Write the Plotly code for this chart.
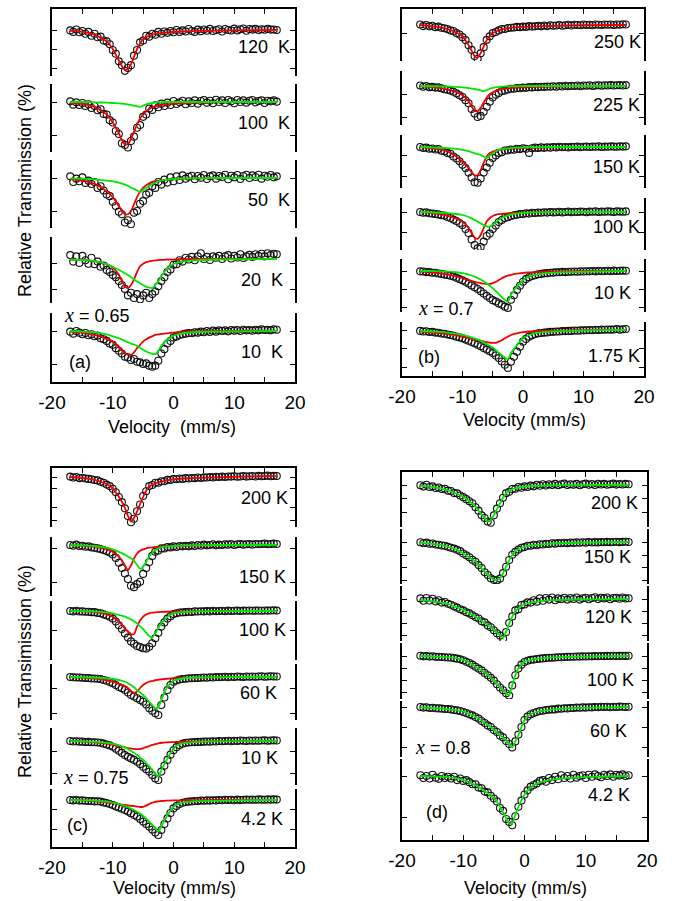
import plotly.graph_objects as go

W, H = 675, 901
FONT = "Liberation Sans, Arial, sans-serif"

# velocity channels of the spectra (mm/s) and velocity points of the fitted sub-spectra
VEL = [-17 + 0.5 * k for k in range(69)]
CV = [-17, -15, -13, -11, -10, -9, -8.5, -8, -7.5, -7, -6.5, -6, -5.5, -5, -4.5, -4,
      -3.5, -3, -2.5, -2, -1.5, -1, 0, 1, 2, 4, 7, 11, 17]

# ---------------- panel (a) x = 0.65 ----------------
A120_DATA = [-0.02, -0.1, 0.03, -0.12, -0.05, -0.2, -0.1, -0.3, -0.2, -0.38,
             -0.35, -0.55, -0.6, -0.75, -1.05, -1.25, -1.65, -1.85, -2.15, -2.0,
             -1.85, -1.35, -1.05, -0.65, -0.55, -0.3, -0.35, -0.2, -0.25, -0.1,
             -0.2, -0.08, -0.15, -0.05, -0.12, 0.0, -0.1, -0.02, -0.08, 0.05,
             -0.05, -0.1, 0.02, -0.06, 0.03, -0.04, 0.06, -0.05, 0.0, 0.04,
             -0.08, 0.05, 0.0, -0.03, 0.07, -0.02, 0.04, 0.08, -0.04, 0.05,
             0.02, 0.06, 0.0, 0.04, 0.01, 0.06, 0.02, 0.03, 0.0]
A120_RED = [-0.05, -0.1, -0.25, -0.6, -1.0, -1.6, -1.9, -2.1, -2.05, -1.8,
            -1.4, -1.0, -0.7, -0.5, -0.38, -0.3, -0.25, -0.21, -0.18, -0.16,
            -0.14, -0.12, -0.1, -0.08, -0.07, -0.05, -0.03, -0.02, 0]

A100_DATA = [0.02, -0.08, -0.01, -0.09, -0.03, -0.12, -0.07, -0.18, -0.12, -0.25,
             -0.22, -0.36, -0.38, -0.55, -0.62, -0.88, -0.97, -1.25, -1.3, -1.38,
             -1.18, -1.05, -0.78, -0.7, -0.45, -0.38, -0.2, -0.24, -0.1, -0.16,
             -0.05, -0.12, -0.02, -0.09, 0.03, -0.06, -0.01, 0.04, -0.07, 0.02,
             -0.03, 0.05, -0.05, 0.03, 0.06, -0.02, 0.04, -0.04, 0.07, 0.0,
             0.05, -0.03, 0.06, 0.02, -0.04, 0.06, 0.0, 0.05, -0.02, 0.04,
             0.06, -0.01, 0.03, 0.05, -0.03, 0.04, 0.02, 0.05, 0.01]
A100_RED = [-0.03, -0.06, -0.15, -0.38, -0.62, -0.95, -1.15, -1.28, -1.27, -1.12,
            -0.9, -0.68, -0.5, -0.38, -0.28, -0.21, -0.16, -0.13, -0.11, -0.09,
            -0.08, -0.07, -0.05, -0.04, -0.03, -0.02, -0.01, 0, 0]
A100_GREEN = [0, 0, -0.01, -0.02, -0.03, -0.04, -0.05, -0.06, -0.07, -0.09,
              -0.11, -0.13, -0.15, -0.11, -0.07, -0.04, -0.03, -0.02, -0.01, -0.01,
              0, 0, 0, 0, 0, 0, 0, 0, 0]

A50_DATA = [0.05, -0.12, -0.02, -0.1, 0.02, -0.15, -0.08, -0.18, -0.12, -0.3,
            -0.25, -0.38, -0.5, -0.55, -0.72, -0.85, -1.02, -1.1, -1.35, -1.28,
            -1.4, -1.05, -1.0, -0.78, -0.7, -0.5, -0.45, -0.25, -0.3, -0.12,
            -0.2, -0.05, -0.14, 0.02, -0.1, 0.05, -0.06, 0.08, -0.02, 0.04,
            0.07, -0.04, 0.06, 0.01, 0.09, -0.03, 0.05, 0.08, -0.02, 0.06,
            0.03, 0.1, -0.04, 0.07, 0.02, 0.09, -0.03, 0.06, 0.1, 0.0,
            0.08, 0.03, 0.1, -0.02, 0.07, 0.04, 0.09, 0.02, 0.05]
A50_RED = [-0.03, -0.08, -0.18, -0.4, -0.58, -0.85, -1.0, -1.1, -1.1, -1.0,
           -0.8, -0.58, -0.42, -0.3, -0.22, -0.16, -0.12, -0.1, -0.08, -0.07,
           -0.06, -0.05, -0.04, -0.03, -0.02, -0.01, -0.01, 0, 0]
A50_GREEN = [-0.01, -0.02, -0.04, -0.08, -0.1, -0.14, -0.17, -0.2, -0.24, -0.29,
             -0.33, -0.38, -0.42, -0.36, -0.3, -0.24, -0.18, -0.14, -0.1, -0.08,
             -0.06, -0.05, -0.03, -0.02, -0.01, -0.01, 0, 0, 0]

A20_DATA = [0.15, -0.1, 0.1, -0.15, 0.12, -0.05, -0.18, 0.05, -0.2, -0.1,
            -0.3, -0.25, -0.42, -0.5, -0.62, -0.7, -0.85, -1.0, -1.15, -1.4,
            -1.3, -1.5, -1.35, -1.55, -1.4, -1.3, -1.5, -1.35, -1.25, -1.05,
            -0.85, -0.7, -0.5, -0.4, -0.22, -0.2, -0.05, -0.1, 0.05, -0.02,
            0.08, -0.05, 0.1, 0.22, 0.0, 0.08, -0.04, 0.1, 0.05, 0.12,
            0.0, 0.1, 0.15, 0.02, 0.12, 0.06, 0.18, 0.04, 0.1, 0.16,
            0.08, 0.18, 0.12, 0.2, 0.1, 0.22, 0.15, 0.2, 0.18]
A20_RED = [-0.02, -0.04, -0.08, -0.2, -0.33, -0.6, -0.85, -1.05, -1.12, -1.0,
           -0.78, -0.5, -0.28, -0.18, -0.12, -0.09, -0.07, -0.05, -0.04, -0.03,
           -0.03, -0.02, -0.02, -0.01, -0.01, 0, 0, 0, 0]
A20_GREEN = [-0.02, -0.04, -0.08, -0.2, -0.3, -0.42, -0.48, -0.55, -0.62, -0.7,
             -0.78, -0.87, -0.94, -1.0, -1.06, -1.1, -1.12, -1.0, -0.85, -0.68,
             -0.5, -0.35, -0.19, -0.12, -0.08, -0.04, -0.02, -0.01, 0]

A10_DATA = [-0.02, -0.08, 0.0, -0.05, -0.1, -0.06, -0.13, -0.1, -0.16, -0.14,
            -0.22, -0.25, -0.3, -0.38, -0.42, -0.52, -0.6, -0.68, -0.78, -0.8,
            -0.88, -0.85, -0.93, -0.95, -1.0, -0.98, -1.05, -1.08, -1.05, -0.9,
            -0.68, -0.55, -0.38, -0.3, -0.2, -0.17, -0.12, -0.1, -0.08, -0.06,
            -0.07, -0.04, -0.05, -0.02, -0.04, 0.0, -0.03, 0.01, -0.02, 0.02,
            0.0, 0.02, -0.01, 0.03, 0.01, 0.03, 0.0, 0.04, 0.02, 0.03,
            0.01, 0.04, 0.02, 0.05, 0.03, 0.04, 0.02, 0.05, 0.04]
A10_RED = [-0.02, -0.06, -0.12, -0.24, -0.32, -0.48, -0.58, -0.67, -0.72, -0.73,
           -0.65, -0.52, -0.42, -0.32, -0.25, -0.2, -0.16, -0.12, -0.1, -0.09,
           -0.08, -0.07, -0.05, -0.03, -0.02, -0.01, 0, 0, 0]
A10_GREEN = [0, -0.02, -0.04, -0.1, -0.16, -0.22, -0.26, -0.3, -0.34, -0.38,
             -0.41, -0.45, -0.51, -0.57, -0.62, -0.66, -0.69, -0.7, -0.6, -0.45,
             -0.34, -0.26, -0.14, -0.09, -0.06, -0.03, -0.02, -0.01, 0]

# ---------------- panel (b) x = 0.7 ----------------
B250_DATA = [0.02, -0.04, 0.0, -0.05, -0.03, -0.08, -0.06, -0.1, -0.12, -0.15,
             -0.2, -0.22, -0.3, -0.35, -0.45, -0.56, -0.75, -0.92, -1.15, -1.25,
             -1.05, -0.82, -0.55, -0.42, -0.3, -0.26, -0.2, -0.15, -0.15, -0.11,
             -0.1, -0.09, -0.07, -0.08, -0.06, -0.07, -0.04, -0.06, -0.05, -0.03,
             -0.05, -0.02, -0.04, -0.01, -0.03, -0.02, 0.0, -0.03, -0.01, 0.01,
             -0.02, 0.01, 0.0, -0.01, 0.02, 0.0, 0.01, -0.01, 0.02, 0.01,
             0.0, 0.02, 0.01, 0.02, 0.0, 0.02, 0.01, 0.03, 0.02]
B250_RED = [0, -0.05, -0.12, -0.28, -0.43, -0.74, -0.95, -1.15, -1.2, -1.04,
            -0.8, -0.56, -0.4, -0.3, -0.24, -0.19, -0.16, -0.14, -0.12, -0.1,
            -0.09, -0.08, -0.07, -0.06, -0.05, -0.04, -0.02, -0.01, 0]

B225_DATA = [0.02, -0.03, 0.0, -0.05, -0.04, -0.07, -0.06, -0.1, -0.14, -0.16,
             -0.2, -0.25, -0.32, -0.4, -0.48, -0.62, -0.75, -1.0, -1.2, -1.35,
             -1.3, -1.12, -0.9, -0.68, -0.5, -0.38, -0.3, -0.22, -0.2, -0.15,
             -0.12, -0.12, -0.09, -0.1, -0.07, -0.08, -0.05, -0.06, -0.04, -0.05,
             -0.03, -0.04, -0.02, -0.03, -0.01, -0.03, 0.0, -0.02, 0.01, -0.01,
             0.01, 0.0, 0.02, -0.01, 0.02, 0.01, 0.03, 0.0, 0.02, 0.03,
             0.01, 0.03, 0.02, 0.04, 0.02, 0.03, 0.04, 0.02, 0.04]
B225_RED = [-0.02, -0.05, -0.12, -0.27, -0.4, -0.66, -0.88, -1.08, -1.1, -0.95,
            -0.72, -0.5, -0.36, -0.27, -0.21, -0.17, -0.14, -0.12, -0.1, -0.09,
            -0.08, -0.07, -0.06, -0.05, -0.04, -0.03, -0.02, -0.01, 0]
B225_GREEN = [0, -0.01, -0.02, -0.04, -0.06, -0.09, -0.11, -0.13, -0.16, -0.19,
              -0.22, -0.18, -0.12, -0.08, -0.06, -0.04, -0.03, -0.02, -0.02, -0.01,
              -0.01, -0.01, 0, 0, 0, 0, 0, 0, 0]

B150_DATA = [0.0, -0.05, -0.03, -0.08, -0.07, -0.12, -0.1, -0.18, -0.2, -0.28,
             -0.32, -0.45, -0.55, -0.68, -0.85, -1.0, -1.22, -1.45, -1.68, -1.7,
             -1.5, -1.22, -0.98, -0.75, -0.52, -0.4, -0.28, -0.25, -0.17, -0.16,
             -0.12, -0.13, -0.08, -0.1, -0.06, -0.08, -0.28, -0.06, -0.03, -0.05,
             -0.02, -0.04, -0.01, -0.03, 0.0, -0.02, 0.01, -0.01, 0.0, -0.02,
             0.01, 0.0, 0.02, -0.01, 0.01, 0.02, 0.0, 0.02, 0.01, 0.03,
             0.0, 0.02, 0.01, 0.03, 0.02, 0.01, 0.03, 0.02, 0.03]
B150_RED = [-0.02, -0.06, -0.15, -0.45, -0.7, -1.0, -1.2, -1.36, -1.33, -1.1,
            -0.75, -0.46, -0.3, -0.22, -0.17, -0.14, -0.12, -0.1, -0.09, -0.08,
            -0.07, -0.06, -0.05, -0.04, -0.03, -0.02, -0.01, 0, 0]
B150_GREEN = [0, -0.02, -0.04, -0.09, -0.14, -0.2, -0.25, -0.3, -0.34, -0.38,
              -0.45, -0.52, -0.42, -0.3, -0.2, -0.14, -0.1, -0.08, -0.06, -0.05,
              -0.04, -0.03, -0.02, -0.01, -0.01, 0, 0, 0, 0]

B100_DATA = [0.0, -0.04, -0.02, -0.06, -0.08, -0.1, -0.12, -0.16, -0.18, -0.25,
             -0.3, -0.38, -0.45, -0.55, -0.65, -0.85, -1.05, -1.38, -1.65, -1.82,
             -1.75, -1.48, -1.2, -1.08, -0.85, -0.68, -0.5, -0.4, -0.3, -0.26,
             -0.2, -0.16, -0.14, -0.1, -0.1, -0.06, -0.08, -0.04, -0.05, -0.03,
             -0.04, -0.01, -0.03, 0.0, -0.02, -0.01, 0.01, -0.02, 0.0, 0.02,
             -0.01, 0.01, 0.0, 0.02, 0.01, -0.01, 0.02, 0.01, 0.03, 0.0,
             0.02, 0.01, 0.03, 0.02, 0.0, 0.03, 0.02, 0.01, 0.03]
B100_RED = [-0.01, -0.05, -0.14, -0.33, -0.48, -0.8, -1.05, -1.28, -1.34, -1.15,
            -0.8, -0.48, -0.3, -0.2, -0.14, -0.11, -0.09, -0.08, -0.07, -0.06,
            -0.05, -0.05, -0.04, -0.03, -0.02, -0.01, 0, 0, 0]
B100_GREEN = [0, -0.02, -0.04, -0.1, -0.15, -0.25, -0.32, -0.4, -0.48, -0.57,
              -0.65, -0.72, -0.74, -0.63, -0.52, -0.4, -0.3, -0.23, -0.17, -0.13,
              -0.1, -0.08, -0.05, -0.03, -0.02, -0.01, 0, 0, 0]

B10_DATA = [-0.02, -0.03, -0.06, -0.06, -0.1, -0.1, -0.14, -0.16, -0.2, -0.22,
            -0.26, -0.3, -0.38, -0.45, -0.52, -0.6, -0.7, -0.8, -0.9, -1.0,
            -1.12, -1.25, -1.38, -1.5, -1.62, -1.7, -1.8, -1.88, -1.98, -2.05,
            -1.6, -1.35, -1.05, -0.82, -0.6, -0.45, -0.35, -0.28, -0.24, -0.18,
            -0.16, -0.13, -0.12, -0.1, -0.09, -0.07, -0.07, -0.05, -0.06, -0.04,
            -0.04, -0.03, -0.04, -0.02, -0.03, -0.01, -0.02, 0.0, -0.02, 0.01,
            -0.01, 0.0, 0.01, -0.01, 0.02, 0.0, 0.01, 0.02, 0.01]
B10_RED = [-0.03, -0.08, -0.16, -0.3, -0.4, -0.5, -0.55, -0.6, -0.64, -0.68,
           -0.7, -0.72, -0.72, -0.67, -0.6, -0.5, -0.4, -0.31, -0.26, -0.22,
           -0.18, -0.15, -0.1, -0.08, -0.06, -0.04, -0.02, -0.01, 0]
B10_GREEN = [0, -0.01, -0.02, -0.07, -0.12, -0.2, -0.25, -0.31, -0.38, -0.47,
             -0.57, -0.68, -0.82, -0.96, -1.12, -1.28, -1.45, -1.61, -1.7, -1.33,
             -1.08, -0.87, -0.5, -0.31, -0.22, -0.12, -0.06, -0.03, 0]

B175_DATA = [-0.05, -0.08, -0.07, -0.11, -0.1, -0.14, -0.15, -0.19, -0.2, -0.24,
             -0.27, -0.31, -0.36, -0.4, -0.45, -0.52, -0.58, -0.65, -0.72, -0.8,
             -0.88, -0.97, -1.06, -1.15, -1.25, -1.38, -1.52, -1.7, -1.88, -2.05,
             -1.72, -1.45, -1.17, -0.9, -0.63, -0.48, -0.36, -0.28, -0.22, -0.18,
             -0.16, -0.14, -0.13, -0.1, -0.1, -0.08, -0.08, -0.06, -0.06, -0.05,
             -0.05, -0.03, -0.04, -0.02, -0.02, -0.01, 0.0, -0.01, 0.01, 0.0,
             0.02, 0.01, 0.03, 0.02, 0.03, 0.05, 0.02, 0.04, 0.05]
B175_RED = [-0.09, -0.14, -0.19, -0.28, -0.36, -0.43, -0.47, -0.5, -0.54, -0.58,
            -0.62, -0.66, -0.69, -0.7, -0.69, -0.63, -0.55, -0.45, -0.36, -0.27,
            -0.22, -0.18, -0.12, -0.08, -0.06, -0.04, -0.02, -0.01, 0]
B175_GREEN = [-0.05, -0.08, -0.11, -0.2, -0.27, -0.35, -0.4, -0.45, -0.51, -0.58,
              -0.67, -0.76, -0.85, -0.95, -1.08, -1.23, -1.36, -1.48, -1.57, -1.26,
              -1.02, -0.81, -0.45, -0.27, -0.18, -0.1, -0.05, -0.02, 0]

# ---------------- panel (c) x = 0.75 ----------------
C200_DATA = [0.02, -0.03, 0.0, -0.06, -0.04, -0.08, -0.1, -0.12, -0.16, -0.18,
             -0.25, -0.3, -0.4, -0.48, -0.62, -0.8, -1.05, -1.32, -1.65, -2.05,
             -2.38, -2.2, -1.8, -1.45, -1.0, -0.75, -0.48, -0.42, -0.3, -0.3,
             -0.22, -0.22, -0.15, -0.16, -0.1, -0.12, -0.08, -0.1, -0.06, -0.08,
             -0.05, -0.06, -0.03, -0.05, -0.02, -0.03, 0.0, -0.02, 0.01, 0.0,
             0.02, 0.0, 0.03, 0.02, 0.04, 0.01, 0.03, 0.05, 0.02, 0.04,
             0.05, 0.03, 0.06, 0.04, 0.05, 0.07, 0.04, 0.06, 0.05]
C200_RED = [0, -0.05, -0.15, -0.38, -0.6, -1.04, -1.3, -1.63, -2.05, -2.35,
            -2.16, -1.82, -1.42, -1.04, -0.72, -0.51, -0.4, -0.33, -0.28, -0.25,
            -0.2, -0.17, -0.12, -0.1, -0.08, -0.05, -0.02, 0.02, 0.05]

C150_DATA = [0.0, -0.02, 0.01, -0.03, -0.02, -0.05, -0.04, -0.07, -0.08, -0.1,
             -0.12, -0.15, -0.18, -0.22, -0.28, -0.38, -0.52, -0.68, -0.84, -1.0,
             -1.2, -1.24, -1.15, -1.08, -0.85, -0.68, -0.5, -0.32, -0.2, -0.16,
             -0.1, -0.1, -0.06, -0.07, -0.04, -0.06, -0.03, -0.04, -0.02, -0.04,
             -0.01, -0.03, 0.0, -0.02, 0.01, -0.01, 0.0, 0.02, -0.01, 0.01,
             0.0, 0.02, 0.01, 0.03, 0.0, 0.02, 0.03, 0.01, 0.02, 0.03,
             0.01, 0.03, 0.02, 0.03, 0.04, 0.02, 0.03, 0.04, 0.03]
C150_RED = [0, -0.02, -0.04, -0.12, -0.2, -0.34, -0.45, -0.6, -0.74, -0.6,
            -0.4, -0.25, -0.17, -0.13, -0.1, -0.08, -0.07, -0.06, -0.05, -0.04,
            -0.04, -0.03, -0.03, -0.02, -0.02, -0.01, -0.01, 0, 0]
C150_GREEN = [0, -0.01, -0.03, -0.08, -0.13, -0.2, -0.24, -0.29, -0.34, -0.39,
              -0.47, -0.59, -0.7, -0.64, -0.5, -0.34, -0.23, -0.15, -0.1, -0.07,
              -0.05, -0.04, -0.03, -0.02, -0.01, -0.01, 0, 0, 0]

C100_DATA = [0.0, -0.02, 0.01, -0.03, -0.02, -0.04, -0.04, -0.06, -0.06, -0.1,
             -0.12, -0.18, -0.24, -0.3, -0.4, -0.55, -0.75, -0.95, -1.18, -1.4,
             -1.6, -1.72, -1.84, -1.9, -1.96, -1.98, -1.88, -1.7, -1.44, -1.15,
             -0.82, -0.6, -0.4, -0.28, -0.16, -0.12, -0.08, -0.07, -0.06, -0.04,
             -0.05, -0.02, -0.03, -0.01, -0.02, 0.0, -0.02, 0.01, -0.01, 0.0,
             0.01, -0.01, 0.02, 0.0, 0.01, 0.02, 0.0, 0.02, 0.01, 0.03,
             0.01, 0.02, 0.03, 0.01, 0.03, 0.02, 0.03, 0.04, 0.02]
C100_RED = [0, -0.02, -0.05, -0.17, -0.3, -0.56, -0.72, -0.91, -1.08, -1.21,
            -1.22, -0.82, -0.5, -0.3, -0.18, -0.12, -0.09, -0.07, -0.06, -0.05,
            -0.04, -0.04, -0.03, -0.02, -0.02, -0.01, 0, 0, 0]
C100_GREEN = [0, -0.01, -0.02, -0.07, -0.12, -0.2, -0.25, -0.3, -0.37, -0.44,
              -0.54, -0.65, -0.8, -0.96, -1.14, -1.32, -1.4, -1.18, -0.9, -0.65,
              -0.45, -0.3, -0.12, -0.07, -0.05, -0.02, -0.01, 0, 0]

C60_DATA = [0.0, -0.01, -0.02, -0.02, -0.03, -0.04, -0.04, -0.06, -0.06, -0.07,
            -0.08, -0.12, -0.15, -0.2, -0.25, -0.32, -0.4, -0.45, -0.52, -0.62,
            -0.72, -0.78, -0.85, -0.92, -0.99, -1.1, -1.25, -1.35, -1.45, -1.52,
            -1.12, -0.82, -0.52, -0.32, -0.19, -0.14, -0.1, -0.08, -0.07, -0.05,
            -0.05, -0.04, -0.04, -0.03, -0.02, -0.03, -0.01, -0.02, 0.0, -0.01,
            0.0, 0.01, -0.01, 0.01, 0.0, 0.02, 0.01, 0.0, 0.02, 0.01,
            0.02, 0.01, 0.02, 0.03, 0.01, 0.02, 0.03, 0.02, 0.02]
C60_RED = [0, -0.02, -0.05, -0.13, -0.19, -0.27, -0.31, -0.36, -0.45, -0.58,
           -0.64, -0.58, -0.44, -0.32, -0.24, -0.19, -0.16, -0.13, -0.11, -0.09,
           -0.08, -0.07, -0.05, -0.04, -0.03, -0.02, -0.01, 0, 0]
C60_GREEN = [0, -0.01, -0.02, -0.05, -0.07, -0.12, -0.15, -0.19, -0.25, -0.32,
             -0.41, -0.52, -0.62, -0.72, -0.85, -0.99, -1.12, -1.25, -1.2, -0.92,
             -0.62, -0.39, -0.15, -0.08, -0.04, -0.02, -0.01, 0, 0]

C10_DATA = [0.0, -0.02, -0.01, -0.03, -0.03, -0.05, -0.04, -0.06, -0.06, -0.07,
            -0.08, -0.12, -0.16, -0.2, -0.26, -0.35, -0.44, -0.54, -0.64, -0.72,
            -0.79, -0.86, -0.94, -1.05, -1.17, -1.28, -1.39, -1.55, -1.7, -1.77,
            -1.39, -1.12, -0.86, -0.62, -0.42, -0.28, -0.18, -0.12, -0.08, -0.07,
            -0.06, -0.05, -0.04, -0.04, -0.03, -0.02, -0.03, -0.01, -0.02, 0.0,
            -0.01, 0.0, 0.01, -0.01, 0.01, 0.0, 0.02, 0.01, 0.0, 0.02,
            0.01, 0.02, 0.01, 0.02, 0.03, 0.01, 0.02, 0.03, 0.02]
C10_RED = [0, -0.02, -0.05, -0.12, -0.18, -0.23, -0.26, -0.29, -0.32, -0.34,
           -0.36, -0.37, -0.36, -0.33, -0.28, -0.23, -0.18, -0.14, -0.11, -0.08,
           -0.07, -0.06, -0.05, -0.04, -0.03, -0.02, -0.01, 0, 0]
C10_GREEN = [0, -0.02, -0.04, -0.08, -0.12, -0.19, -0.24, -0.29, -0.36, -0.45,
             -0.54, -0.64, -0.75, -0.86, -1.0, -1.14, -1.32, -1.5, -1.62, -1.32,
             -1.05, -0.79, -0.33, -0.14, -0.09, -0.04, -0.02, -0.01, 0]

C42_DATA = [0.0, -0.02, 0.0, -0.03, -0.02, -0.04, -0.05, -0.05, -0.07, -0.06,
            -0.08, -0.12, -0.15, -0.2, -0.25, -0.32, -0.38, -0.44, -0.5, -0.58,
            -0.66, -0.75, -0.83, -0.95, -1.08, -1.2, -1.33, -1.48, -1.63, -1.75,
            -1.5, -1.2, -0.92, -0.65, -0.42, -0.3, -0.2, -0.14, -0.1, -0.08,
            -0.07, -0.05, -0.05, -0.03, -0.04, -0.02, -0.03, -0.01, -0.02, 0.0,
            -0.01, 0.01, 0.0, 0.01, -0.01, 0.02, 0.0, 0.01, 0.02, 0.01,
            0.02, 0.01, 0.03, 0.02, 0.01, 0.03, 0.02, 0.03, 0.02]
C42_RED = [0, -0.02, -0.05, -0.12, -0.17, -0.21, -0.23, -0.25, -0.27, -0.29,
           -0.31, -0.33, -0.35, -0.34, -0.28, -0.2, -0.13, -0.09, -0.07, -0.05,
           -0.04, -0.03, -0.02, -0.02, -0.01, -0.01, 0, 0, 0]
C42_GREEN = [0, -0.02, -0.03, -0.08, -0.13, -0.2, -0.25, -0.3, -0.36, -0.43,
             -0.5, -0.58, -0.68, -0.8, -0.93, -1.08, -1.25, -1.42, -1.58, -1.33,
             -1.02, -0.75, -0.33, -0.17, -0.11, -0.06, -0.04, -0.02, 0]

# ---------------- panel (d) x = 0.8 ----------------
D200_DATA = [-0.02, -0.12, 0.02, -0.15, -0.1, -0.22, -0.18, -0.3, -0.28, -0.42,
             -0.45, -0.6, -0.62, -0.78, -0.9, -1.05, -1.2, -1.35, -1.65, -1.9,
             -2.25, -2.45, -2.7, -2.8, -2.25, -1.75, -1.35, -0.95, -0.6, -0.5,
             -0.3, -0.28, -0.15, -0.2, -0.1, -0.15, -0.05, -0.1, 0.02, -0.06,
             0.05, -0.04, 0.06, 0.0, 0.08, -0.02, 0.05, 0.1, 0.0, 0.06,
             0.02, 0.08, -0.02, 0.06, 0.1, 0.02, 0.07, 0.0, 0.09, 0.04,
             0.08, 0.02, 0.06, 0.1, 0.03, 0.07, 0.04, 0.08, 0.05]
D200_GREEN = [-0.07, -0.15, -0.32, -0.65, -0.87, -1.2, -1.4, -1.6, -1.9, -2.2,
              -2.48, -2.7, -2.6, -2.2, -1.8, -1.36, -0.95, -0.62, -0.45, -0.32,
              -0.24, -0.18, -0.12, -0.08, -0.06, -0.02, -0.01, 0, 0]

D150_DATA = [-0.02, -0.1, -0.05, -0.14, -0.12, -0.2, -0.22, -0.28, -0.3, -0.38,
             -0.45, -0.52, -0.62, -0.72, -0.9, -1.05, -1.2, -1.4, -1.55, -1.82,
             -2.05, -2.38, -2.6, -2.85, -2.98, -3.02, -2.88, -2.45, -1.95, -1.42,
             -1.0, -0.78, -0.6, -0.45, -0.4, -0.3, -0.3, -0.22, -0.25, -0.18,
             -0.2, -0.14, -0.16, -0.1, -0.13, -0.08, -0.1, -0.06, -0.09, -0.04,
             -0.07, -0.03, -0.06, -0.02, -0.05, 0.0, -0.04, -0.01, -0.03, 0.0,
             -0.02, 0.01, -0.02, 0.0, 0.02, -0.01, 0.01, 0.02, 0.0]
D150_GREEN = [-0.05, -0.15, -0.3, -0.62, -0.9, -1.2, -1.38, -1.55, -1.8, -2.07,
              -2.35, -2.6, -2.82, -2.97, -3.0, -2.86, -2.45, -1.94, -1.45, -1.02,
              -0.75, -0.57, -0.37, -0.28, -0.22, -0.14, -0.08, -0.04, 0]

D120_DATA = [0.05, -0.15, 0.08, -0.12, 0.02, -0.2, -0.1, -0.3, -0.25, -0.4,
             -0.48, -0.6, -0.72, -0.85, -0.95, -1.1, -1.2, -1.35, -1.5, -1.62,
             -1.85, -1.95, -2.2, -2.35, -2.6, -2.85, -3.05, -3.3, -2.75, -2.0,
             -1.45, -0.95, -0.85, -0.5, -0.45, -0.28, -0.3, -0.1, -0.22, 0.05,
             -0.15, 0.08, -0.05, 0.12, -0.1, 0.05, -0.02, 0.1, -0.05, 0.08,
             0.0, 0.12, -0.05, 0.06, 0.1, -0.02, 0.08, 0.15, 0.0, 0.1,
             0.05, 0.12, -0.02, 0.08, 0.1, 0.02, 0.12, 0.05, 0.06]
D120_GREEN = [-0.08, -0.2, -0.35, -0.7, -0.92, -1.2, -1.33, -1.47, -1.64, -1.82,
              -2.0, -2.17, -2.37, -2.58, -2.8, -3.0, -3.25, -2.72, -2.05, -1.47,
              -1.05, -0.78, -0.42, -0.3, -0.22, -0.12, -0.06, -0.03, 0]

D100_DATA = [0.02, -0.03, 0.0, -0.05, -0.02, -0.07, -0.06, -0.08, -0.1, -0.12,
             -0.12, -0.18, -0.22, -0.28, -0.35, -0.48, -0.58, -0.72, -0.9, -1.05,
             -1.2, -1.42, -1.6, -1.82, -2.05, -2.35, -2.62, -2.85, -3.1, -3.3,
             -2.45, -1.6, -1.05, -0.72, -0.5, -0.4, -0.32, -0.3, -0.25, -0.22,
             -0.2, -0.17, -0.15, -0.14, -0.12, -0.1, -0.1, -0.08, -0.07, -0.06,
             -0.06, -0.04, -0.05, -0.03, -0.04, -0.02, -0.03, -0.01, -0.02, 0.0,
             -0.01, 0.01, 0.0, 0.02, 0.0, 0.01, 0.02, 0.01, 0.02]
D100_GREEN = [0, -0.04, -0.08, -0.2, -0.33, -0.55, -0.72, -0.89, -1.05, -1.22,
              -1.4, -1.58, -1.82, -2.06, -2.32, -2.6, -2.85, -3.1, -3.25, -2.42,
              -1.6, -1.03, -0.47, -0.33, -0.25, -0.13, -0.07, -0.03, 0]

D60_DATA = [0.0, -0.03, -0.01, -0.05, -0.04, -0.06, -0.07, -0.08, -0.1, -0.1,
            -0.12, -0.15, -0.17, -0.2, -0.25, -0.3, -0.36, -0.42, -0.5, -0.58,
            -0.7, -0.8, -0.92, -1.0, -1.15, -1.25, -1.42, -1.52, -1.7, -1.85,
            -2.02, -1.72, -1.38, -1.0, -0.65, -0.48, -0.36, -0.3, -0.25, -0.2,
            -0.19, -0.15, -0.14, -0.12, -0.12, -0.08, -0.09, -0.06, -0.07, -0.05,
            -0.05, -0.03, -0.04, -0.02, -0.03, -0.01, -0.02, 0.0, -0.01, 0.01,
            0.0, 0.01, -0.01, 0.01, 0.0, 0.02, 0.01, 0.0, 0.01]
D60_GREEN = [-0.02, -0.05, -0.09, -0.17, -0.23, -0.34, -0.41, -0.48, -0.58, -0.69,
             -0.8, -0.9, -1.02, -1.15, -1.28, -1.4, -1.54, -1.68, -1.84, -2.02,
             -1.72, -1.4, -0.65, -0.35, -0.25, -0.14, -0.07, -0.03, 0]

D42_DATA = [0.02, -0.05, 0.0, -0.06, 0.03, -0.04, -0.07, 0.0, -0.05, -0.02,
            -0.06, -0.02, -0.1, -0.06, -0.12, -0.1, -0.15, -0.2, -0.2, -0.28,
            -0.3, -0.38, -0.4, -0.48, -0.55, -0.62, -0.78, -0.85, -1.05, -1.12,
            -1.2, -0.98, -0.75, -0.6, -0.45, -0.35, -0.26, -0.22, -0.18, -0.12,
            -0.1, -0.14, -0.05, -0.1, -0.02, -0.08, 0.02, -0.05, 0.0, -0.06,
            0.03, -0.04, 0.0, 0.02, -0.05, 0.03, -0.02, 0.04, 0.0, -0.03,
            0.03, 0.0, 0.04, -0.02, 0.03, 0.01, 0.04, 0.0, 0.02]
D42_GREEN = [0, -0.01, -0.02, -0.06, -0.1, -0.15, -0.19, -0.22, -0.27, -0.32,
             -0.37, -0.42, -0.48, -0.54, -0.63, -0.75, -0.88, -1.03, -1.16, -1.15,
             -0.95, -0.75, -0.46, -0.28, -0.18, -0.1, -0.05, -0.02, 0]

# spectra: (id, panel, temperature label, data, red fit, green fit)
SPECTRA = [
    ("a1", "a", "120\u00a0\u00a0K", A120_DATA, A120_RED, None),
    ("a2", "a", "100\u00a0\u00a0K", A100_DATA, A100_RED, A100_GREEN),
    ("a3", "a", "50\u00a0\u00a0K", A50_DATA, A50_RED, A50_GREEN),
    ("a4", "a", "20\u00a0\u00a0K", A20_DATA, A20_RED, A20_GREEN),
    ("a5", "a", "10\u00a0\u00a0K", A10_DATA, A10_RED, A10_GREEN),
    ("b1", "b", "250 K", B250_DATA, B250_RED, None),
    ("b2", "b", "225 K", B225_DATA, B225_RED, B225_GREEN),
    ("b3", "b", "150 K", B150_DATA, B150_RED, B150_GREEN),
    ("b4", "b", "100 K", B100_DATA, B100_RED, B100_GREEN),
    ("b5", "b", "10 K", B10_DATA, B10_RED, B10_GREEN),
    ("b6", "b", "1.75 K", B175_DATA, B175_RED, B175_GREEN),
    ("c1", "c", "200 K", C200_DATA, C200_RED, None),
    ("c2", "c", "150 K", C150_DATA, C150_RED, C150_GREEN),
    ("c3", "c", "100 K", C100_DATA, C100_RED, C100_GREEN),
    ("c4", "c", "60 K", C60_DATA, C60_RED, C60_GREEN),
    ("c5", "c", "10 K", C10_DATA, C10_RED, C10_GREEN),
    ("c6", "c", "4.2 K", C42_DATA, C42_RED, C42_GREEN),
    ("d1", "d", "200 K", D200_DATA, None, D200_GREEN),
    ("d2", "d", "150 K", D150_DATA, None, D150_GREEN),
    ("d3", "d", "120 K", D120_DATA, None, D120_GREEN),
    ("d4", "d", "100 K", D100_DATA, None, D100_GREEN),
    ("d5", "d", "60 K", D60_DATA, None, D60_GREEN),
    ("d6", "d", "4.2 K", D42_DATA, None, D42_GREEN),
]

bad = []
for sid, _, _, d, r, g in SPECTRA:
    if len(d) != len(VEL):
        bad.append(f"{sid} data {len(d)}")
    for nm, c in (("red", r), ("green", g)):
        if c is not None and len(c) != len(CV):
            bad.append(f"{sid} {nm} {len(c)}")
if bad:
    raise ValueError("length mismatch: " + ", ".join(bad))

# ---------------- layout geometry (pixels) ----------------
PANEL_X = {"a": (52, 295), "b": (402, 644), "c": (52, 295), "d": (402, 647)}
# id: (top, bottom, baseline, px per unit, tick pixel rows)
GEOM = {
    "a1": (9, 76, 30, 19, [30, 49, 68]),
    "a2": (84, 152, 102, 33, [102, 135]),
    "a3": (160, 228, 178, 33, [178, 211]),
    "a4": (237, 303, 259, 26, [263, 289]),
    "a5": (313, 382, 331, 33, [331, 364]),
    "b1": (9, 61, 25, 27, [33]),
    "b2": (71, 125, 86, 23, [94, 117]),
    "b3": (135, 188, 147, 21, [155, 176]),
    "b4": (198, 250, 212, 20, [212, 232]),
    "b5": (259, 312, 271, 18, [271, 289, 307]),
    "b6": (322, 376, 330, 18.5, [330, 348, 367]),
    "c1": (468, 527, 477, 19, [477, 488, 507, 520]),
    "c2": (537, 596, 545, 34, [548, 582]),
    "c3": (601, 660, 611, 19, [630]),
    "c4": (664, 720, 677, 25, [688, 713]),
    "c5": (728, 785, 741, 22, [751, 773]),
    "c6": (789, 847, 800, 20, [809, 829]),
    "d1": (472, 527, 485, 13.5, [485, 498, 512]),
    "d2": (529, 584, 542, 12.7, [542, 555, 567, 580]),
    "d3": (586, 641, 599, 12, [599, 611, 623, 635]),
    "d4": (643, 699, 656, 12, [656, 668, 680, 692]),
    "d5": (701, 757, 707, 20, [707, 727, 747]),
    "d6": (759, 840, 776, 41, [776, 817]),
}
TOP_IDS = {"a1", "b1", "c1", "d1"}
BOTTOM_IDS = {"a5", "b6", "c6", "d6"}

TEMP_POS = {
    "a1": (292, 47), "a2": (292, 123), "a3": (292, 200), "a4": (285, 280), "a5": (285, 352),
    "b1": (643, 42), "b2": (642, 105), "b3": (642, 167), "b4": (642, 227), "b5": (633, 293), "b6": (642, 356),
    "c1": (290, 498), "c2": (288, 577), "c3": (288, 630), "c4": (279, 693), "c5": (280, 758), "c6": (285, 819),
    "d1": (640, 503), "d2": (633, 557), "d3": (634, 617), "d4": (636, 680), "d5": (629, 731), "d6": (632, 795),
}

RED = "#F00000"
GREEN = "#00E600"

fig = go.Figure()
layout = dict(width=W, height=H,
              margin=dict(l=0, r=0, t=0, b=0, pad=0, autoexpand=False),
              autosize=False,
              paper_bgcolor="white", plot_bgcolor="rgba(0,0,0,0)", showlegend=False,
              font=dict(family=FONT, size=18, color="black"))

annotations = []


def px(x):
    return x / W


def py(y):
    return 1 - y / H


for i, (sid, panel, temp, data, red, green) in enumerate(SPECTRA, start=1):
    xn = "x" if i == 1 else f"x{i}"
    yn = "y" if i == 1 else f"y{i}"
    xk = "xaxis" if i == 1 else f"xaxis{i}"
    yk = "yaxis" if i == 1 else f"yaxis{i}"
    top, bot, base, s, ticks = GEOM[sid]
    lo = -(bot - base) / s
    hi = (base - top) / s
    tv = [(base - p) / s for p in ticks] + [lo + 1e-4, hi - 1e-4]
    x0, x1 = PANEL_X[panel]

    layout[yk] = dict(domain=[py(bot), py(top)], range=[lo, hi], anchor=xn,
                      showline=True, linecolor="black", linewidth=1.5, mirror="ticks",
                      ticks="inside", ticklen=5, tickwidth=1.2, tickcolor="black",
                      tickmode="array", tickvals=tv, showticklabels=False,
                      showgrid=False, zeroline=False, fixedrange=True, automargin=False)
    xa = dict(domain=[px(x0), px(x1)], range=[-20, 20], anchor=yn,
              showgrid=False, zeroline=False, fixedrange=True, automargin=False)
    if sid in TOP_IDS:
        xa.update(side="top", showline=True, linecolor="black", linewidth=1.5,
                  ticks="inside", ticklen=5, tickwidth=1.2, tickcolor="black",
                  tickmode="array", tickvals=[-15, -10, -5, 0, 5, 10, 15],
                  showticklabels=False)
    elif sid in BOTTOM_IDS:
        xa.update(side="bottom", showline=True, linecolor="black", linewidth=1.5,
                  ticks="inside", ticklen=5, tickwidth=1.2, tickcolor="black",
                  tickmode="array", tickvals=[-20, -15, -10, -5, 0, 5, 10, 15, 20],
                  ticktext=["-20", "", "-10", "", "0", "", "10", "", "20"],
                  tickfont=dict(family=FONT, size=19, color="black"),
                  ticklabelstandoff=2)
    else:
        xa.update(visible=False)
    layout[xk] = xa

    fig.add_trace(go.Scatter(x=VEL, y=data, mode="markers", xaxis=xn, yaxis=yn,
                             marker=dict(symbol="circle-open", size=7,
                                         color="#111111", line=dict(width=1.1)),
                             hoverinfo="skip"))
    if red is not None:
        fig.add_trace(go.Scatter(x=CV, y=red, mode="lines", xaxis=xn, yaxis=yn,
                                 line=dict(color=RED, width=1.8, shape="spline", smoothing=0.6),
                                 hoverinfo="skip"))
    if green is not None:
        fig.add_trace(go.Scatter(x=CV, y=green, mode="lines", xaxis=xn, yaxis=yn,
                                 line=dict(color=GREEN, width=1.8, shape="spline", smoothing=0.6),
                                 hoverinfo="skip"))

    tx, ty = TEMP_POS[sid]
    annotations.append(dict(text=temp, x=px(tx), y=py(ty), xref="paper", yref="paper",
                            xanchor="right", yanchor="middle", showarrow=False,
                            font=dict(family=FONT, size=18, color="black")))

XSYM = "<span style='font-family:Liberation Serif,Times New Roman,serif;font-size:20px'><i>x</i></span>"
EXTRA = [
    (XSYM + " = 0.65", 62, 315, "left"), ("(a)", 80, 362, "center"),
    (XSYM + " = 0.7", 416, 308, "left"), ("(b)", 429, 357, "center"),
    (XSYM + " = 0.75", 61, 777, "left"), ("(c)", 77, 825, "center"),
    (XSYM + " = 0.8", 413, 747, "left"), ("(d)", 437, 812, "center"),
    ("Velocity\u00a0\u00a0(mm/s)", 172, 427, "center"),
    ("Velocity (mm/s)", 524, 420, "center"),
    ("Velocity (mm/s)", 174, 888, "center"),
    ("Velocity (mm/s)", 525, 888, "center"),
]
for txt, x, y, anc in EXTRA:
    annotations.append(dict(text=txt, x=px(x), y=py(y), xref="paper", yref="paper",
                            xanchor=anc, yanchor="middle", showarrow=False,
                            font=dict(family=FONT, size=18, color="black")))
for cy in (191, 672):
    annotations.append(dict(text="Relative Transimission (%)", x=px(25), y=py(cy),
                            xref="paper", yref="paper", xanchor="center", yanchor="middle",
                            textangle=-90, showarrow=False,
                            font=dict(family=FONT, size=18, color="black")))

layout["annotations"] = annotations
fig.update_layout(**layout)
fig.write_html("out.html")
